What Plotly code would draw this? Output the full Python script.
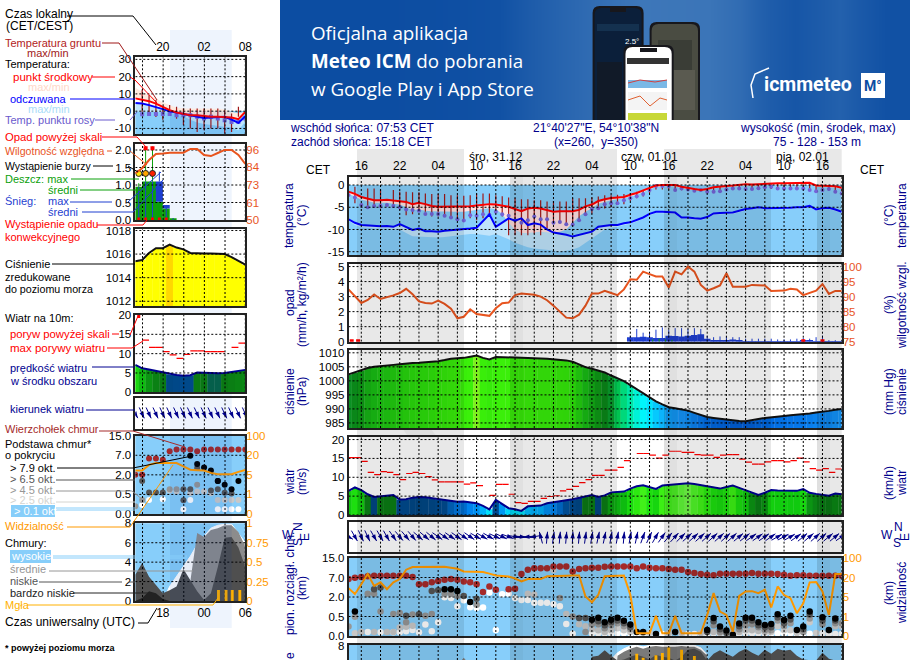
# Meteogram (ICM style) with the legend column on the left
import math
import plotly.graph_objects as go

W, H = 910, 660
FONT = "Liberation Sans"
NAVY = "#00008c"
ORANGE = "#ff9900"
HUMID = "#e8541e"
SKY = "#87cefa"

# ---- main chart, one value per hour from 14:00 on 30.12
temp_mid = [-1.5,-2.0,-2.7,-3.0,-3.4,-3.4,-3.3,-3.5,-3.6,-3.8,-4.3,-4.0,-4.3,-4.7,-4.9,-4.9,-4.9,-4.9,-4.9,-4.8,-4.6,-4.4,-4.3,-4.4,-4.6,-4.9,-5.4,-5.9,-5.3,-5.1,-5.3,-5.7,-6.0,-5.9,-5.9,-5.9,-5.6,-4.8,-4.4,-3.6,-3.2,-2.9,-2.8,-2.7,-2.2,-1.8,-1.2,-0.7,-0.1,0,0,0,-0.4,-0.7,-0.9,-1.1,-0.9,-0.5,-0.3,-0.2,-0.1,0.1,0.2,0.1,0.2,0.3,0.4,0.4,0.4,0.4,0.5,0.5,0.5,-0.1,-0.2,-0.2,-0.3,-0.6]
temp_min = [-2.0,-2.6,-3.3,-3.6,-4,-4,-4,-4.2,-4.4,-5,-5.6,-5.5,-5.8,-5.9,-6,-6,-6,-6,-6,-5.8,-5.6,-5.4,-5.2,-5.4,-6.5,-8.5,-10,-10.8,-10.8,-10.6,-10.5,-10.6,-10.8,-10.5,-10,-8.5,-7,-6,-5.2,-4.2,-3.8,-3.4,-3.2,-3,-2.6,-2.2,-1.6,-1,-0.4,-0.3,-0.3,-0.3,-0.7,-1,-1.2,-1.3,-1.2,-.8,-.6,-.5,-.4,-.2,-.1,-.2,-.1,0,.1,.1,.1,.1,.2,.2,.2,-.4,-.5,-.5,-.6,-.9]
temp_feel = [-7.7,-8.5,-9,-9.1,-9.2,-9.3,-9.2,-9.4,-8.8,-9.5,-10.1,-9.8,-10.4,-10.4,-10.5,-10.3,-10.2,-10,-9.9,-9.8,-9.6,-8.2,-6.6,-9.4,-8.4,-7.5,-8,-7.5,-9,-8.6,-8.9,-10,-10.7,-10.9,-11.2,-11.6,-11.2,-10.8,-10.5,-9.4,-9.2,-9,-9,-8.6,-8.4,-7.9,-7.3,-6.5,-6,-6,-6.1,-6.2,-7.3,-7.3,-7.5,-7.6,-7.2,-6.4,-6.3,-6.2,-6.2,-5.8,-5.4,-5.2,-5,-5.2,-5.2,-5.1,-5.2,-5.1,-5,-5,-4.7,-5.5,-5.2,-5.1,-5.5,-6]
temp_feel_min = [-8,-9,-9.5,-9.6,-9.8,-9.8,-9.8,-10,-10,-10.8,-11.5,-11.5,-11.6,-11.7,-11.8,-11.7,-11.5,-11.3,-11.2,-11,-11,-11.2,-11.4,-11,-11.6,-12.2,-13,-13.5,-14,-14.3,-14.5,-14.6,-14.7,-15,-14.8,-14.5,-14,-13,-12,-11,-10,-9.6,-9.4,-9,-8.7,-8.2,-7.6,-6.8,-6.3,-6.3,-6.4,-6.5,-7.6,-7.6,-7.8,-7.9,-7.5,-6.7,-6.6,-6.5,-6.5,-6.1,-5.7,-5.5,-5.3,-5.5,-5.5,-5.4,-5.5,-5.4,-5.3,-5.3,-5,-5.8,-5.5,-5.4,-5.8,-6.3]
dew_point = [-2.25,-2.8,-4.5,-5,-4.7,-4.7,-4.5,-4.7,-5,-5.5,-5.6,-5.8,-6.5,-6.5,-6.5,-6.9,-7.3,-7.7,-8,-6.8,-6.9,-6.6,-6.7,-6,-6.6,-6.9,-7.9,-8.5,-7.9,-7.1,-7.7,-7.7,-8.5,-8.3,-8.8,-8.9,-7.9,-6.6,-5.4,-5.2,-4.3,-4.1,-4.1,-3.4,-3,-2.5,-2,-1.1,-.2,-.2,-.2,-1.1,-.8,-1,-1.3,-1.1,-1.5,-1.5,-1.4,-1,-.8,-.8,-.9,-.9,-.7,-.5,-.4,-.8,-.8,-.8,-.8,-.8,-1.1,-1.4,-1.1,-.9,-1.5,-1.9]
ground_max = [None,-0.4,None,-0.8,-0.8,-1,None,-1.1,-1.5,-1.5,-1.6,-1.6,-1.9,-2,-2,-2,-2.3,-2.3,-2.4,-2.3,-1.9,-1.9,-1.9,-2.3,-2.5,-2.8,-3,-3.2,-3.2,-3.4,-3.4,-3.7,-3.6,-3.7,-3.7,-3,-3,-3,-2.8,-2.6,-2.3,-2.3,-2.2,-2,-1.8,-1.5,-1.2,-.8,-.1,0,0,0,-.4,-.6,-.8,-.9,-.8,-.4,-.2,-.1,0,.1,.2,.1,.2,.2,.2,.2,.2,.2,.2,.2,.2,-.2,-.2,-.2,-.2,-.5]
ground_min = [None,-4.1,None,-5,-4.9,-5.3,None,-5,-5.6,-6.8,-6.6,-6,-6,-7.1,-7.1,-6.8,-7.1,-7.5,-8.3,-7.5,-7.9,-7.5,-6.8,-5.6,-7.1,-11.3,-11.3,-11.3,-11.3,-10.9,-11.3,-9.8,-8.6,-8.6,-8.6,-8.6,-7.9,-6.8,-6.4,-5.6,-5.3,-5,-4.5,-4.3,-3.6,-3,-2.6,-1.8,-1,-1,-1,-1,-1.2,-1.2,-1.4,-1.4,-1.2,-1.2,-1.1,-1,-1,-1,-1,-1,-1,-.9,-.9,-.9,-.9,-.9,-.9,-.9,-.9,-1.1,-1.1,-1.1,-1.3,-1.5]
humidity = [92.4,90,87.9,88.9,90.7,89.2,89.7,90.4,91.2,92.6,90.8,88.4,87.9,87.7,88.7,87.6,86,82.8,83.3,85.8,84.2,83.8,83.6,86.1,87.8,88,90.5,91,90.9,90.6,90,88.8,87,85,83,82.8,84,87,91,91,91.9,91.2,90.5,92.4,95.8,95.6,98.3,97.5,96.7,96.7,93,98.3,97.4,100,98.3,93.9,92,92.8,93.7,97.8,93.3,93.3,93.3,93.9,93.8,93.7,91.9,91.9,92,92.6,92.4,90.5,91.2,92,94.2,90.9,91.9,91.9]
snow_mean = [0]*44 + [.3,.3,.33,.3,.25,.25,.4,.38,.35,.4,.45,.5,.2,.1,.1,.12,.15,.1,.02,.02,.02,.02,.02,.02,.02,.02,.02,.1,.05,.02,.02,.02,.02,.01]
snow_max = [0.45]+[0]*43 + [.4,.85,.6,.65,.8,.95,.8,.9,.9,.85,.9,.85,.4,.3,.35,.35,.3,.3,.2,.2,.2,.2,.2,.15,.15,.15,.2,.25,.2,.3,.4,.1,.1,.1]
rain_max = [0]*47 + [.15,.2,.15,.12]
convective_hours = [0.5,1.5,71,74]
pressure = [1002.3,1003,1003.7,1004.6,1005,1005.3,1005.5,1005.7,1005.9,1006.2,1006.4,1006.5,1006.6,1006.8,1007,1007.4,1007.9,1008.1,1008.2,1008.6,1009,1008.2,1007.6,1008.5,1008.5,1008.4,1008.3,1008.2,1008.2,1008.1,1008,1007.9,1007.7,1007.5,1007.3,1006.8,1005.8,1004.9,1004.3,1003.6,1003,1001.9,1001,999.9,998.5,997,995.7,994.2,992.7,991.6,990.6,990.2,989.8,989.4,988.6,987.9,987.1,986.8,986.5,986.2,985.9,985.7,985.6,985.9,986.4,986.8,987.1,987.4,987.5,987.7,987.9,988,988.4,988.7,988.9,989.3,989.7,990]
wind = [6.4,7.3,6.6,5.5,4.8,5,5.2,5.3,4.1,4.2,4.6,4.8,4.7,4.5,4.2,4,3.7,3.5,3.6,3.3,3.1,2.4,1.5,4,2.9,1.8,1.5,1.1,2.3,2.5,2.5,3.1,3.3,3.6,3.9,4.2,4.6,5,5.3,4.8,5.2,6,6.1,6.2,7,7.6,7.9,7.4,6.9,7.8,8,8.2,8.3,8.4,8.2,7.9,7.6,7.3,7,7.4,7.8,7.2,6.5,5.9,5.3,5.9,6.6,6.5,6.5,6.4,6.4,6.9,5.9,5.6,5.3,5.1,5.7,5.5]
gust = [15.2,15.2,14.2,11.3,10.7,11.5,11.3,10.7,9.4,11,11.3,11,10.2,9.3,8.8,8.8,8.8,8.8,8.2,8.5,7.8,None,5.2,8.1,8.1,5.5,3.3,3.1,3.6,3.6,4.4,4.9,5.1,6.4,6.8,7.6,8.6,9.4,10.5,10.5,11.9,11.9,12.6,14.4,None,16.3,16.3,15.9,15.1,15.9,16.9,16.9,16.6,16.6,16,15.9,15.9,15.3,15.9,16,16,14.8,14,13.5,13.5,14.1,14.4,14.4,14.1,14.4,15.1,14.1,12.3,11.9,12.3,11.3,12.2]
wind_bearing = [120,150,155,155,150,150,150,145,140,140,140,130,130,130,125,125,125,125,125,125,120,120,120,115,115,110,100,95,265,260,345,5,8,5,5,3,5,8,10,12,12,10,10,5,10,12,20,25,30,35,40,42,45,48,48,48,48,48,48,48,48,50,52,55,55,55,55,60,62,60,55,50,50,48,48,50,50,55]
cloud_top = [2.92,2.99,3.02,3.06,3.09,3.09,3.09,3.09,3.09,3.09,3.02,2.66,2.66,2.76,2.82,2.88,2.92,2.88,2.8,2.76,2.66,2.25,2.54,2.37,None,2.4,2.42,3.18,3.4,3.48,3.48,3.48,3.57,3.57,3.57,3.31,3.43,3.48,3.5,3.5,3.55,3.57,3.57,3.57,3.57,3.48,3.57,3.5,3.48,3.48,3.43,3.4,3.4,3.28,3.23,3.18,3.14,3.11,3.19,3.19,3.19,3.19,3.19,3.23,3.19,3.19,3.19,3.18,3.14,3.09,3.12,3.12,3.09,3.09,3.09,3.09,3.09,3.09]
visibility = [2.45,2.15,2.65,3.18,2.57,2.75,2.4,2.75,2.92,3.4,3.54,3.54,3.54,3.56,3.57,3.55,3.5,3.45,3.31,3.31,3.31,3.28,3.2,3.1,3.08,3.05,2.95,2.8,2.92,2.92,2.92,3.06,3.08,3.08,3.09,3.1,3.1,2.03,1.73,2.11,3.06,3.08,3.1,3.1,2.11,.14,.14,.14,1.03,.14,.14,1.03,.14,.14,.14,.14,1.07,2.2,1.25,1.08,.22,2.06,2.28,2.3,2.2,2.37,1.46,2.54,2.1,1.94,1.17,1.68,2.75,2.77,2.28,1.08,3.18,3.18]
black_h = [1,15,16,17,19,38,39,40,41,42,43,44,45,46,48,51,56,57,58,59,60,61,62,63,64,65,66,67,68,69,70,71,72,74,75,76]
black_v = [1.25,2.4,2.4,2.31,1.74,.83,.94,.7,.83,.94,.78,.59,.21,.21,.1,.21,.31,.92,.49,.28,.07,.64,.94,.94,.7,.57,.61,1.11,.82,1.04,.31,.49,1.25,.96,.31,.9]
dark_h = [4,5,9,11,13,14,18,20,36,37,39,40,41,42,43,44,56,57,58,59,61,62,63,64,65,66,67,68,69,71,72,74,76]
dark_v = [2.4,2.49,1.04,1.11,2.31,2.35,2.05,1.91,.92,.92,.75,.55,.7,.8,.65,.45,.2,.75,.35,.15,.5,.8,.8,.55,.45,.45,.95,.65,.85,.35,1.1,.8,.8]
gray_h = [0,1,3,4,5,7,8,9,10,12,13,15,16,17,20,33,35,37,38,39,40,41,42,43,44,57,58,61,62,63,64,65,66,67,68,69,71,72,74,76,77]
gray_v = [.49,.99,2.17,2.17,1.25,1.13,1.18,.7,1.1,1.04,1.13,2.17,2.17,2.05,1.6,1.95,1.0,.2,.6,.6,.4,.55,.65,.5,.35,.55,.2,.35,.55,.6,.45,.3,.3,.8,.5,.65,.2,.9,.6,.65,.65]
light_h = [1,2,4,6,7,8,9,10,28,29,32,34,36,37,38,39,40,41,42,43,44,46,47,50,52,55,57,58,60,61,62,63,64,65,66,67,68,69,70,71,72,73,75,76,77]
light_v = [.14,.2,.2,.2,.2,.43,.47,.52,2.17,2.13,3.39,1.13,.6,.5,.35,.3,.2,.3,.4,.3,.2,.15,.15,.15,.15,.15,.2,.15,.15,.2,.3,.3,.25,.2,.2,.5,.3,.3,.15,.2,.7,.15,.3,.5,.5]
white_h = [3,5,7,8,9,10,11,12,13,14,15,16,17,18,19,20,21,22,23,24,25,26,27,28,29,30,31,32,33,34,35,38,39,40,41,42,43,44,45,46,47,49,50,52,53,54,55,56,57,58,59,60,61,62,63,64,65,66,67,68,69,70,71,72,74,75,76,77]
white_v = [.2,.19,.19,.19,.24,.31,.19,.59,.24,.7,1.99,1.95,1.53,1.83,1.48,1.43,1.46,2.23,.31,2.14,2.17,1.95,1.84,1.84,1.7,1.7,1.7,1.63,1.53,.61,.12,.14,.14,.14,.12,.14,.14,.12,.1,.1,.1,.1,.1,.1,.1,.1,.1,.1,.14,.12,.1,.1,.12,.14,.14,.14,.12,.14,.14,.14,.14,.1,.1,.12,.14,.1,.1,.1]
layer_high = [0]*41 + [6.6,7.3,7.7,8,8.05,7.9,8.05,8.1,8.05,8.05,8.05,8.1,8.05,8.05,7.8,7.1]
layer_mid = [0]*17 + [6,6.8,6] + [0]*22 + [7.0,7.4,7.7,7.9,7.7,7.9,8.0,7.9,7.9,7.9,8,7.9,7.9,7.6,7]
layer_low = [0]*37 + [5,6.9,7.0,7.55,7.0,6.5,6.6,6.9,7.1,6.9,6.6,7.1,6.9,6.8,6.5,6.9,7.6,7.7,7.4,6.5,7.2,7.55,7.2,6.9,7.4,7.7,7.3,7.0,7.6,7.2,7.7,7.5,7.6,7.0,6.6,6.5,6.5,7.3,6.7,6.5,6.4]
fog_h = [45,46,48,49,50,52,54]
fog_v = [.9,.85,.88,.91,.98,.95,.87]

# ---- legend column, one value per hour from 16:00
l_temp = [7.4,6.8,5.8,4.4,2.5,.6,-.8,-1.5,-2.3,-2.3,-2.9,-3.3,-3.3,-3.3,-3.7,-4.6,-.4]
l_temp_max = [13.5,11,9,7.5,5,3.5,2,1.6,1.6,1.6,1.6,1.4,1.4,.9,-.5,-1.2,-.4]
l_feel = [4.8,4.4,3.5,2.5,1.2,0,-.8,-1.4,-2.3,-3.3,-3.9,-3.7,-3.7,-3.3,-4.9,-6.8,-2.9]
l_feel_min = [-.2,-.3,-.5,-.6,-.7,-.8,-1.8,-3,-5,-6.5,-7.5,-8,-8.5,-9,-9.5,-11,-6]
l_dew = [-1.8,-1.7,-1.7,-1.7,-1.7,-2.3,-2.3,-2.3,-3.3,-4.3,-3.3,-4.3,-5.3,-6.3,-6.3,-4.3]
l_ground_max = [None,12.5,9.3,6.4,2.8,3.5,2.5,1.5,1.5,1.5,1.5,1.5,1.5,.6,-1.3,2.5,None]
l_ground_min = [None,-.4,-1.5,-3.4,-5,-2.3,-4.4,-8,-10,-12,-11,-10,-10,-13,-12,-3.3,None]
l_humid = [80.7,84,89.4,93.4,93.6,94.2,94.2,94.2,96.7,96.7,92.7,92,94,96,96,92.7,86.8]
l_rain = [.95,1.1,1.1,.52,.33,.05,0,0,0,0,0,0,0,0,0,0,0]
l_snow = [0,0,0,.58,.1,0,0,0,0,0,0,0,0,0,0,0,0]
l_rain_max = [1.05,2.1,2.1,0,0,0,0,0,0,0,0,0,0,0,0,0,0]
l_snow_max = [0,0,0,1.38,0,0,0,0,0,0,0,0,0,0,0,0,0]
l_storm = [1.33,1.33,1.33]
l_pressure = [1015.4,1015.5,1016.1,1016.5,1016.5,1016.8,1016.55,1016.4,1016.1,1016.05,1016.05,1016.05,1016.05,1016.0,1015.75,1015.45,1015.1]
l_wind = [7.1,6.2,5.9,5.5,5.1,4.7,4.5,4.3,4.4,5.1,5,4.9,4.9,5,5.3,5.6,5.8]
l_gust = [None,13.5,11.6,11.6,10.5,9.7,8.8,9.8,10.7,10.7,10.5,10.5,10.5,None,11.6,12.7,12.9]
l_bearing = [150,155,155,155,155,155,155,155,155,155,155,155,155,155,155,155,155]
l_top = [2,2,2.84,2.84,2.77,3.2,3.3,3.3,3.3,3.2,3.3,3.3,3.3,3.3,3.3,3.3,3.3]
l_black_h = [8,9,10,11,12,12,13,14,15]
l_black_v = [2.97,2.55,2.38,2.22,1.69,1.69,1.49,1.26,1.69]
l_dark_h = [1,2,3,4,7,8,7,9,11,12,13,14]
l_dark_v = [1.69,1.1,1.1,1.1,1.26,1.26,.7,2.35,1.2,1.26,1.09,1.05]
l_gray_h = [1,5,6,9,0]
l_gray_v = [.72,1.26,1.26,1.49,.4]
l_light_h = [5,6,8,9,10,11,12,13,14,15]
l_light_v = [1.2,1.15,1.06,1.15,1.15,1.06,.72,.72,.72,.72]
l_white_h = [1,2,4,7,8,12,13,14,15]
l_white_v = [.46,.72,.75,.24,.72,.24,.24,.24,.24]
l_vis = [2.22,2.22,2.51,2.6,2.6,2.6,2.6,2.43,2.26,2.24,2.22,2.1,2.03,2.03,2.03,2.15,2.25]
l_high = [0,0,0,0,0,1.5,2.5,3.5,4.6,5.8,6.6,7.5,7.8,7.9,7.9,7,6]
l_mid = [0,0,0,0,0,0,0,0,2,7,6.6,7.3,7.5,7.8,7.8,7.1,5.6]
l_low = [2.7,3.9,2.5,1.7,.8,1.1,1.5,3.3,2.2,1,.1,.8,3.5,6.5,6.6,5.5,3.5]
l_verylow = [0,.3,1.0,.8,.2,0,0,0,0,0,0,0,0,0,0,0,0]
l_fog_h = [12.1,13.2,14.1,15.2]
l_fog_v = [.14,.14,.14,.14]

# ---- night bands and banner tone
night_px = [(357,464),(510,617),(664,771),(817,841.7)]
dusk_px = [(510,523),(664,677),(817,830)]
banner_x = [280,340,400,470,530,600,680,740,770,820,860,910]
banner_tone = [0,0,.02,.1,.55,.95,.9,.5,.2,.45,.1]

PRESSURE_COLORS = [(983,"rgb(0,70,190)"),(987,"rgb(0,105,225)"),(990,"rgb(20,150,250)"),(994,"rgb(0,225,255)"),(996,"rgb(0,250,250)"),(998,"rgb(0,235,180)"),(1000,"rgb(0,215,120)"),(1001,"rgb(0,195,80)"),(1002,"rgb(10,150,40)"),(1003,"rgb(10,135,25)"),(1005,"rgb(25,190,20)"),(1007,"rgb(50,230,10)"),(1008.6,"rgb(60,240,10)"),(1009,"rgb(125,240,30)")]
L_PRESSURE_COLORS = [(1014,"rgb(255,255,0)"),(1016.6,"rgb(255,255,0)"),(1016.8,"rgb(255,215,0)")]
WIND_COLORS = [(0,"rgb(0,235,250)"),(1.6,"rgb(0,225,250)"),(2.4,"rgb(0,180,250)"),(3.4,"rgb(0,125,235)"),(4.0,"rgb(0,75,145)"),(4.8,"rgb(0,70,130)"),(5.0,"rgb(10,120,20)"),(5.8,"rgb(10,135,20)"),(6.3,"rgb(15,200,15)"),(7.4,"rgb(30,225,15)"),(7.8,"rgb(60,240,20)"),(8.2,"rgb(80,245,40)"),(8.5,"rgb(125,250,85)")]

fig = go.Figure()
layout = {}
panels = 1


def colorscale(stops):
    lo, hi = stops[0][0], stops[-1][0]
    return [[(v - lo) / (hi - lo), c] for v, c in stops]


def panel(box, xr, yr, yticks, ylabels, rticks=None, rlabels=None, rrange=None, rcolor="black",
          xticks=None, xlabels=None, xside="top"):
    global panels
    panels += 1
    n = panels
    left, top, right, bottom = box
    xa = dict(domain=[left / W, right / W], range=xr, anchor=f"y{n}", showgrid=False, zeroline=False,
              showline=True, mirror=True, linecolor="#222", linewidth=1.5, ticks="",
              showticklabels=xticks is not None, side=xside)
    if xticks is not None:
        xa.update(tickvals=xticks, ticktext=xlabels, tickfont=dict(family=FONT, size=12, color="black"))
    layout[f"xaxis{n}"] = xa
    layout[f"yaxis{n}"] = dict(domain=[1 - bottom / H, 1 - top / H], range=yr, anchor=f"x{n}", showgrid=False,
                               zeroline=False, showline=True, mirror=True, linecolor="#222", linewidth=1.5,
                               ticks="", tickvals=yticks, ticktext=ylabels,
                               tickfont=dict(family=FONT, size=11.5, color="black"))
    r = n + 100
    layout[f"yaxis{r}"] = dict(domain=[1 - bottom / H, 1 - top / H], range=rrange or yr, anchor=f"x{n}",
                               overlaying=f"y{n}", side="right", showgrid=False, zeroline=False, ticks="",
                               tickvals=rticks or [], ticktext=rlabels or [],
                               tickfont=dict(family=FONT, size=11.5, color=rcolor))
    return dict(xaxis=f"x{n}", yaxis=f"y{n}"), dict(xaxis=f"x{n}", yaxis=f"y{r}")


def line(ax, ys, color, width=2, x=None, **kw):
    fig.add_trace(go.Scatter(x=x if x is not None else list(range(len(ys))), y=ys, mode="lines",
                             line=dict(color=color, width=width), connectgaps=False, showlegend=False,
                             hoverinfo="skip", **ax, **kw))


def band(ax, upper, lower, color):
    hrs = list(range(len(upper)))
    fig.add_trace(go.Scatter(x=hrs + hrs[::-1], y=upper + lower[::-1], mode="lines", fill="toself",
                             fillcolor=color, line=dict(width=0), showlegend=False, hoverinfo="skip", **ax))


def dots(ax, xs, ys, color, size, symbol="circle"):
    fig.add_trace(go.Scatter(x=xs, y=ys, mode="markers", marker=dict(color=color, size=size, symbol=symbol, line_width=0),
                             showlegend=False, hoverinfo="skip", **ax))


def vlines(ax, highs, lows, color, width=1.2, xs=None):
    xs = xs if xs is not None else list(range(len(highs)))
    px, py = [], []
    for h, a, b in zip(xs, highs, lows):
        if a is None or b is None or a == b:
            continue
        px += [h, h, None]
        py += [b, a, None]
    line(ax, py, color, width, x=px)


def hsteps(ax, ys, color, width=1.2):
    px, py = [], []
    for h, v in enumerate(ys):
        if v is None:
            continue
        px += [h, h + 1, None]
        py += [v, v, None]
    line(ax, py, color, width, x=px)


def colored_area(ax, ys, stops, top):
    hrs = list(range(len(ys)))
    lo, hi = stops[0][0], stops[-1][0]
    fig.add_trace(go.Bar(x=hrs, y=ys, width=1.05, marker=dict(color=ys, colorscale=colorscale(stops), cmin=lo, cmax=hi,
                                                              line_width=0, showscale=False),
                         showlegend=False, hoverinfo="skip", **ax))
    # white above the profile so the steps of the bars do not show
    band(ax, [top] * len(ys), ys, "white")


def arrows(ax, bearings, hour_px, tail=7, head=5):
    px, py = [], []
    hx, hy = [], []
    for h, b in enumerate(bearings):
        sx, sy = math.sin(math.radians(b)), math.cos(math.radians(b))
        px += [h - tail * sx / hour_px, h + head * sx / hour_px, None]
        py += [-tail * sy, head * sy, None]
        hx.append(h + head * sx / hour_px)
        hy.append(head * sy)
    line(ax, py, NAVY, 1, x=px)
    fig.add_trace(go.Scatter(x=hx, y=hy, mode="markers", showlegend=False, hoverinfo="skip",
                             marker=dict(symbol="arrow", size=7, color=NAVY, angle=bearings, line_width=0), **ax))


def grid(ax, xticks, yticks, xr, yr):
    px, py = [], []
    for t in xticks:
        px += [t, t, None]
        py += [yr[0], yr[1], None]
    for t in yticks:
        px += [xr[0], xr[1], None]
        py += [t, t, None]
    fig.add_trace(go.Scatter(x=px, y=py, mode="lines", line=dict(color="black", width=1, dash="2px,2px"),
                             showlegend=False, hoverinfo="skip", **ax))


def text(x, y, s, color="black", size=12, anchor="left", angle=0, **kw):
    layout.setdefault("annotations", []).append(dict(
        x=x, y=y, xref="x", yref="y", text=s, showarrow=False, xanchor=anchor, yanchor="middle", textangle=angle,
        borderpad=0, borderwidth=0, font=dict(family=kw.pop("family", FONT), size=size, color=color), **kw))


def rect(x0, y0, x1, y1, fill, layer="above", line_color=None):
    layout.setdefault("shapes", []).append(dict(
        type="rect", xref="x", yref="y", x0=x0, y0=y0, x1=x1, y1=y1, fillcolor=fill, layer=layer,
        line=dict(width=1 if line_color else 0, color=line_color)))


def poly(points, color, width=1):
    path = "M" + " L".join(f"{x} {y}" for x, y in points)
    layout.setdefault("shapes", []).append(dict(type="path", xref="x", yref="y", path=path, layer="above",
                                                line=dict(color=color, width=width)))


def phone(x0, y0, x1, r, fill, border="#17171c"):
    y1 = 120
    for (a, b, c, col) in ((x0, y0, x1, border), (x0 + 2, y0 + 2, x1 - 2, fill)):
        path = f"M{a} {y1} L{a} {b + r} Q{a} {b} {a + r} {b} L{c - r} {b} Q{c} {b} {c} {b + r} L{c} {y1} Z"
        layout.setdefault("shapes", []).append(dict(type="path", xref="x", yref="y", path=path, fillcolor=col,
                                                    layer="above", line=dict(width=0)))


# ---- page axes in pixels: banner, backgrounds, legend column
layout["xaxis"] = dict(domain=[0, 1], range=[0, W], visible=False, fixedrange=True)
layout["yaxis"] = dict(domain=[0, 1], range=[H, 0], visible=False, fixedrange=True)
fig.add_trace(go.Heatmap(x=banner_x, y=[0, 60, 120], z=[banner_tone, banner_tone], zsmooth="best", showscale=False,
                         zmin=0, zmax=1, colorscale=[[0, "#0c4da2"], [1, "#4079ba"]], hoverinfo="skip"))

rect(170, 30, 231.7, 628, "#eef4fd", "below")            # night in the legend column
for box in ((348.5, 185, 841.7, 255), (135.3, 111, 245.3, 134.3), (348.5, 558, 841.7, 636), (348.5, 645, 841.7, 660),
            (135.3, 435.7, 245.3, 514), (135.3, 523.3, 245.3, 601)):
    rect(*box, SKY, "below")
# faint logo watermark behind the main chart
layout["shapes"].append(dict(type="path", xref="x", yref="y", layer="below", fillcolor="rgba(0,0,0,0.045)", line=dict(width=0),
                             path="M393 350 L393 400 Q400 450 460 470 L480 470 Q425 440 416 395 L416 350 Z"))
layout["shapes"].append(dict(type="path", xref="x", yref="y", layer="below", fillcolor="rgba(0,0,0,0.04)", line=dict(width=0),
                             path="M660 372 Q690 355 708 372 L713 410 L675 410 Q672 385 660 372 Z"))

# ---- main panels
hours_end = 77
hrange = [0, hours_end]
vgrid = list(range(2, 78, 3))
hour_ticks = list(range(2, 78, 6))
hour_labels = ["16", "22", "04", "10", "16", "22", "04", "10", "16", "22", "04", "10", "16"]

ax, axr = panel((348.5, 176.7, 841.7, 255), hrange, [-15.74, 1.87], [0, -5, -10, -15], ["0", "-5", "-10", "-15"],
                [0, -5, -10, -15], ["0", "-5", "-10", "-15"], xticks=hour_ticks, xlabels=hour_labels)
band(ax, temp_feel, temp_feel_min, "#bfe4fb")
band(ax, temp_mid, temp_min, "#ffe2e2")
vlines(ax, ground_max, ground_min, "#a01818")
dots(ax, list(range(len(dew_point))), dew_point, "#7464d8", 4)
line(ax, temp_feel, "#0000ff")
line(ax, temp_mid, "#ff0000")
grid(ax, vgrid, [0, -5, -10, -15], hrange, [-15.74, 1.87])

ax, axr = panel((348.5, 264, 841.7, 341.7), hrange, [0, 5.17], [0, 1, 2, 3, 4, 5], ["0", "1", "2", "3", "4", "5"],
                [75, 80, 85, 90, 95, 100], ["75", "80", "85", "90", "95", "100"], [75, 100.85], HUMID)
fig.add_trace(go.Bar(x=list(range(len(snow_mean))), y=snow_mean, width=1.05, marker=dict(color="#1f3fd0", line_width=0),
                     showlegend=False, hoverinfo="skip", **ax))
vlines(ax, snow_max, [0] * len(snow_max), "#1f3fd0", 1)
vlines(ax, rain_max, [0] * len(rain_max), "#10a010", 1, xs=[h + .5 for h in range(len(rain_max))])
grid(ax, vgrid, [1, 2, 3, 4, 5], hrange, [0, 5.17])
dots(ax, convective_hours, [0.03] * len(convective_hours), "#ff0000", 4, "square")
line(axr, humidity, HUMID, 2)

ax, axr = panel((348.5, 350, 841.7, 428), hrange, [983.2, 1011], [1010, 1005, 1000, 995, 990, 985],
                ["1010", "1005", "1000", "995", "990", "985"], [1010, 1005, 1000, 995, 990, 985],
                ["758", "754", "750", "746", "742", "739"])
colored_area(ax, pressure, PRESSURE_COLORS, 1011)
line(ax, pressure, "#111", 2)
grid(ax, vgrid, [1010, 1005, 1000, 995, 990, 985], hrange, [983.2, 1011])

ax, axr = panel((348.5, 437.3, 841.7, 515), hrange, [0, 20.6], [0, 5, 10, 15, 20], ["0", "5", "10", "15", "20"],
                [0, 5, 10, 15, 20], ["0", "18", "36", "54", "72"])
colored_area(ax, wind, WIND_COLORS, 20.6)
line(ax, wind, "#000090", 2)
hsteps(ax, gust, "#ff0000")
grid(ax, vgrid, [0, 5, 10, 15, 20], hrange, [0, 20.6])

ax, axr = panel((348.5, 521.7, 841.7, 551.7), hrange, [-15, 15], [], [])
arrows(ax, wind_bearing, 6.4)
grid(ax, vgrid, [], hrange, [-15, 15])

ax, axr = panel((348.5, 558, 841.7, 636), hrange, [0, 4], [0, 1, 2, 3, 4], ["0.0", "0.5", "2.0", "7.0", "15.0"],
                [0, 1, 2, 3, 4], ["0", "1", "5", "20", "100"], rcolor=ORANGE)
dots(ax, white_h, white_v, "white", 6.5)
dots(ax, light_h, light_v, "#c8c8c8", 6.5)
dots(ax, gray_h, gray_v, "#969696", 6.5)
dots(ax, dark_h, dark_v, "#555555", 6.5)
dots(ax, black_h, black_v, "black", 6.5)
dots(ax, list(range(len(cloud_top))), cloud_top, "#a52a2a", 6.5)
grid(ax, vgrid, [1, 2, 3], hrange, [0, 4])
line(axr, visibility, ORANGE, 2)

ax, axr = panel((348.5, 645, 841.7, 660), hrange, [6.56, 8.09], [8], ["8"], [8], ["1"], [.82, 1.011], ORANGE)
line(ax, layer_high, "white", 1, fill="tozeroy", fillcolor="white")
line(ax, layer_mid, "#7a7a7a", 0, fill="tozeroy", fillcolor="#7a7a7a")
line(ax, layer_low, "#4d4d4d", 0, fill="tozeroy", fillcolor="#4d4d4d")
grid(ax, vgrid, [], hrange, [6.56, 8.09])
fig.add_trace(go.Bar(x=fog_h, y=fog_v, width=0.45, marker=dict(color="#ffb000", line_width=0), showlegend=False,
                     hoverinfo="skip", **axr))

# ---- legend panels
lrange = [0, 16]
lgrid = [1.05, 4.05, 7.05, 10.05, 13.05, 16]

ax, axr = panel((135.3, 57.3, 245.3, 134.3), lrange, [-13.4, 31.2], [30, 20, 10, 0, -10], ["30", "20", "10", "0", "-10"],
                [30, 20, 10, 0, -10], ["30", "20", "10", "0", "-10"], xticks=[4, 10, 16], xlabels=["20", "02", "08"])
band(ax, l_temp_max, l_temp, "#ffe9de")
band(ax, l_feel, l_feel_min, "#c0e6fb")
vlines(ax, l_ground_max, l_ground_min, "#a01818")
dots(ax, list(range(1, len(l_dew) + 1)), l_dew, "#7464d8", 4, "square")
line(ax, l_feel, "#0000ff")
line(ax, l_temp, "#ff0000")
grid(ax, lgrid, [30, 20, 10, 0, -10], lrange, [-13.4, 31.2])

ax, axr = panel((135.3, 143.7, 245.3, 220), lrange, [0, 2.18], [0, .5, 1, 1.5, 2], ["0.0", "0.5", "1.0", "1.5", "2.0"],
                [50, 61.5, 73, 84.5, 96], ["50", "61", "73", "84", "96"], [50, 100.1], HUMID)
rain_hours = [h + .5 for h in range(len(l_rain))]
fig.add_trace(go.Bar(x=rain_hours, y=l_rain, width=1.02, marker=dict(color="#0ba00b", line_width=0), showlegend=False,
                     hoverinfo="skip", **ax))
fig.add_trace(go.Bar(x=rain_hours, y=l_snow, base=l_rain, width=1.02, marker=dict(color="#1f3fd0", line_width=0),
                     showlegend=False, hoverinfo="skip", **ax))
vlines(ax, l_rain_max, l_rain, "#0ba00b", 1, xs=rain_hours)
vlines(ax, l_snow_max, [a + b for a, b in zip(l_rain, l_snow)], "#1f3fd0", 1, xs=rain_hours)
grid(ax, lgrid, [.5, 1, 1.5, 2], lrange, [0, 2.18])
dots(ax, rain_hours[1:3], [2.05] * 2, "#ff0000", 4, "square")
dots(ax, rain_hours[:5], [.03] * 5, "#ff0000", 3, "square")
fig.add_trace(go.Scatter(x=rain_hours[:3], y=l_storm, mode="markers", showlegend=False, hoverinfo="skip",
                         marker=dict(color=["#ffe600", "#ffa500", "#ff2000"], size=6, line=dict(color="#222", width=1)), **ax))
line(axr, l_humid, HUMID, 2)

ax, axr = panel((135.3, 229.3, 245.3, 306), lrange, [1011.6, 1018.1], [1018, 1016, 1014, 1012], ["1018", "1016", "1014", "1012"],
                [1018, 1016, 1014, 1012], ["1018", "1016", "1014", "1012"])
colored_area(ax, l_pressure, L_PRESSURE_COLORS, 1018.1)
line(ax, l_pressure, "#111", 2)
grid(ax, lgrid, [1018, 1016, 1014, 1012], lrange, [1011.6, 1018.1])

ax, axr = panel((135.3, 315, 245.3, 392.3), lrange, [0, 20], [0, 5, 10, 15, 20], ["0", "5", "10", "15", "20"],
                [0, 5, 10, 15, 20], ["0", "18", "36", "54", "72"])
colored_area(ax, l_wind, WIND_COLORS, 20)
line(ax, l_wind, "#000090", 2)
hsteps(ax, l_gust, "#ff0000")
dots(ax, [.5], [19.6], "#ff0000", 3, "square")
grid(ax, lgrid, [5, 10, 15], lrange, [0, 20])

ax, axr = panel((135.3, 398.3, 245.3, 429.3), lrange, [-15.5, 15.5], [], [])
arrows(ax, l_bearing, 6.875)
grid(ax, lgrid, [], lrange, [-15.5, 15.5])

ax, axr = panel((135.3, 435.7, 245.3, 514), lrange, [0, 4], [0, 1, 2, 3, 4], ["0.0", "0.5", "2.0", "7.0", "15.0"],
                [0, 1, 2, 3, 4], ["0", "1", "5", "20", "100"], rcolor=ORANGE)
dots(ax, l_white_h, l_white_v, "white", 6)
dots(ax, l_light_h, l_light_v, "#c8c8c8", 6)
dots(ax, l_gray_h, l_gray_v, "#969696", 6)
dots(ax, l_dark_h, l_dark_v, "#555555", 6)
dots(ax, l_black_h, l_black_v, "black", 6)
dots(ax, list(range(len(l_top))), l_top, "#a52a2a", 6)
grid(ax, lgrid, [1, 2, 3], lrange, [0, 4])
line(axr, l_vis, ORANGE, 2)

ax, axr = panel((135.3, 523.3, 245.3, 601), lrange, [0, 8], [0, 2, 4, 6, 8], ["0", "2", "4", "6", "8"],
                [0, .25, .5, .75, 1], ["0", "0.25", "0.5", "0.75", "1"], [0, 1], ORANGE,
                xticks=[4, 10, 16], xlabels=["18", "00", "06"], xside="bottom")
line(ax, l_high, "white", 1, fill="tozeroy", fillcolor="white")
line(ax, l_mid, "#8c8c8c", 0, fill="tozeroy", fillcolor="#8c8c8c")
line(ax, l_low, "#4f4f4f", 0, fill="tozeroy", fillcolor="#4f4f4f")
line(ax, l_verylow, "#222", 0, fill="tozeroy", fillcolor="#222")
grid(ax, lgrid, [2, 4, 6], lrange, [0, 8])
fig.add_trace(go.Bar(x=l_fog_h, y=l_fog_v, width=.42, marker=dict(color="#ffb000", line_width=0), showlegend=False,
                     hoverinfo="skip", **axr))

# ---- overlays
for a, b in night_px:
    rect(a, 149, b, 660, "rgba(0,0,0,0.09)")
for a, b in dusk_px:
    rect(a, 176, b, 660, "rgba(0,0,0,0.03)")
for top, bottom in ((111, 134.3), (435.7, 514), (523.3, 601)):
    rect(170, top, 231.7, bottom, "rgba(0,60,170,0.09)")

# ---- banner
text(311, 33, "Oficjalna aplikacja", "white", 18.8, family="Open Sans")
text(311, 61, "<b>Meteo ICM</b> do pobrania", "white", 18.8, family="Open Sans")
text(311, 89, "w Google Play i App Store", "white", 18.8, family="Open Sans")
phone(592.6, 6, 643.6, 7, "#0b1f3a")
phone(649.6, 22, 700, 7, "#4a4c42")
rect(597, 24, 639, 31, "#14314f")
text(625, 41, "2.5°", "white", 8)
rect(597, 62, 622, 120, "#111a28", "above")
rect(658, 40, 692, 70, "#3a3d36")
rect(674, 70, 695, 110, "#5a5a50")
phone(623.5, 45, 673.7, 7, "white")
rect(627, 58, 669, 64, "#333333")
rect(628, 80, 667, 88, "#7ab8e6")
rect(628, 92, 667, 110, "#f4f4f4")
rect(628, 113, 667, 120, "#c8d838")
poly([(628, 83), (640, 80), (655, 82), (667, 80)], "#d04040", 1)
poly([(628, 100), (640, 96), (650, 106), (660, 98), (667, 100)], "#e06030", 1)
rect(640, 48, 657, 52, "#17171c")
rect(610, 8, 626, 12, "#17171c")
text(764, 84, "<b>icmmeteo</b>", "white", 19.5, family="Roboto")
poly([(769, 68), (755, 74), (751, 85), (753, 98)], "white", 1.5)
rect(861, 73, 885, 98, "white")
text(873, 85.5, "<b>M°</b>", "#0c4da2", 14, "center", family="Roboto")

# ---- header of the main chart
text(290, 128, "wschód słońca: 07:53 CET", NAVY)
text(291, 142, "zachód słońca: 15:18 CET", NAVY)
text(596, 128, "21°40'27\"E, 54°10'38\"N", NAVY, anchor="center")
text(596, 142, "(x=260,  y=350)", NAVY, anchor="center")
text(818, 128, "wysokość (min, środek, max)", NAVY, anchor="center")
text(817, 142, "75 - 128 - 153 m", NAVY, anchor="center")
text(496, 157, "śro, 31.12", anchor="center")
text(649, 157, "czw, 01.01", anchor="center")
text(802, 157, "pią, 02.01", anchor="center")
text(318, 170, "CET", anchor="center")
text(872, 170, "CET", anchor="center")

# ---- rotated titles
for x, y, s in ((289, 216, "temperatura"), (302, 216, "(°C)"), (290, 303, "opad"), (302, 305, "(mm/h, kg/m²/h)"),
                (290, 392, "ciśnienie"), (302, 392, "(hPa)"), (290, 482, "wiatr"), (302, 482, "(m/s)"),
                (290, 584, "pion. rozciągł. chm."), (302, 588, "(km)"), (290, 656, "e"),
                (889, 216, "(°C)"), (902, 216, "temperatura"), (889, 305, "(%)"), (902, 305, "wilgotność wzgl."),
                (889, 392, "(mm Hg)"), (902, 392, "ciśnienie"), (889, 483, "(km/h)"), (902, 483, "wiatr"),
                (889, 593, "(km)"), (902, 593, "widzialność")):
    text(x, y, s, NAVY, anchor="center", angle=-90)
for x, y, s, a in ((288, 535, "W", 0), (298, 527, "N", -90), (298, 542, "S", -90), (305, 537, "E", -90),
                   (887, 535, "W", 0), (898, 527, "N", 0), (897, 543, "S", 0), (905, 537, "E", -90)):
    text(x, y, s, NAVY, anchor="center", angle=a)

# ---- legend column texts
legend_rows = [
    (5, 14, "Czas lokalny", "black", 12), (6, 26, "(CET/CEST)", "black", 12),
    (5, 43, "Temperatura gruntu", "#b22222", 11), (27, 53, "max/min", "#a01818", 11),
    (5, 64, "Temperatura:", "black", 11), (13, 77, "punkt środkowy", "#ff0000", 11.5),
    (28, 87, "max/min", "#ffd8c8", 11), (10, 99, "odczuwana", "#0000ff", 11), (28, 109, "max/min", "#a8dcf8", 11),
    (5, 120, "Temp. punktu rosy", "#6a5acd", 11), (5, 137, "Opad powyżej skali", "#ff0000", 11.3),
    (5, 151, "Wilgotność względna", HUMID, 10.6), (5, 166, "Wystąpienie burzy", "black", 10.5),
    (5, 179, "Deszcz: max", "#0ba00b", 11), (48, 190, "średni", "#0ba00b", 11), (5, 201, "Śnieg:", "#1f3fd0", 11),
    (48, 201, "max", "#1f3fd0", 11), (48, 212, "średni", "#1f3fd0", 11), (5, 224, "Wystąpienie opadu", "#ff0000", 11),
    (5, 237, "konwekcyjnego", "#ff0000", 11), (5, 264, "Ciśnienie", "black", 11), (5, 277, "zredukowane", "black", 11),
    (5, 289, "do poziomu morza", "black", 10.7), (5, 318, "Wiatr na 10m:", "black", 11),
    (10, 334, "poryw powyżej skali", "#ff0000", 11.3), (10, 348, "max porywy wiatru", "#ff0000", 11.5),
    (10, 368, "prędkość wiatru", "#000090", 11), (10, 381, "w środku obszaru", "#000090", 11),
    (10, 409, "kierunek wiatru", "#000090", 11), (5, 429, "Wierzchołek chmur", "#a52a2a", 11),
    (5, 444, "Podstawa chmur*", "black", 11), (5, 455, "o pokryciu", "black", 11), (10, 468, "> 7.9 okt.", "black", 11),
    (10, 479, "> 6.5 okt.", "#555555", 11), (10, 490, "> 4.5 okt.", "#969696", 11), (10, 500, "> 2.5 okt.", "#d4d4d0", 11),
    (5, 526, "Widzialność", ORANGE, 11), (5, 543, "Chmury:", "black", 11), (10, 569, "średnie", "#969696", 11),
    (10, 581, "niskie", "#555555", 11), (10, 593, "bardzo niskie", "#222222", 11), (5, 605, "Mgła", "#ffb000", 11),
    (5, 622, "Czas uniwersalny (UTC)", "black", 12),
]
rect(11, 505, 55, 517, SKY)
rect(10, 550, 51, 563, SKY)
text(14, 511, "> 0.1 okt.", "white", 11)
text(11, 556, "wysokie", "white", 11)
for x, y, s, c, z in legend_rows:
    text(x, y, s, c, z)
text(5, 648, "<b>* powyżej poziomu morza</b>", "black", 9)

legend_lines = [
    ([(67, 16), (133, 16), (156, 45)], "black"), ([(102, 43), (119, 43), (157, 100)], "#a01818"),
    ([(92, 77), (115, 77)], "#ff0000"), ([(130, 77), (135, 80), (157, 103)], "#ff0000"),
    ([(70, 99), (135, 99)], "#0000ff"), ([(95, 120), (115, 120)], "#6a5acd"), ([(130, 120), (137, 112)], "#6a5acd"),
    ([(102, 137), (137, 137), (146, 147)], "#ff0000"), ([(107, 151), (112, 151)], HUMID),
    ([(130, 151), (147, 165)], HUMID), ([(93, 166), (113, 166)], "black"), ([(128, 166), (138, 172)], "black"),
    ([(71, 179), (139, 179)], "#0ba00b"), ([(80, 190), (143, 190)], "#0ba00b"), ([(70, 202), (112, 202)], "#1f3fd0"),
    ([(128, 202), (161, 172)], "#1f3fd0"), ([(82, 212), (133, 212), (163, 180)], "#1f3fd0"),
    ([(97, 225), (143, 225), (147, 220)], "#ff0000"), ([(52, 264), (135, 264)], "black"),
    ([(112, 334), (119, 334)], "#ff0000"), ([(130, 335), (138, 316)], "#ff0000"),
    ([(107, 348), (132, 348), (143, 341)], "#ff0000"), ([(92, 367), (135, 367)], "#000090"),
    ([(86, 410), (135, 410)], "#000090"), ([(99, 431), (133, 431), (185, 447)], "#a52a2a"),
    ([(57, 468), (133, 468), (192, 456)], "black"), ([(56, 480), (135, 480)], "#555555"),
    ([(56, 491), (132, 491), (143, 500)], "#969696"), ([(56, 502), (135, 502)], "#d4d4d0"),
    ([(56, 508), (135, 508)], SKY), ([(56, 510), (135, 510)], SKY), ([(67, 527), (130, 527), (173, 465)], ORANGE),
    ([(53, 556), (187, 556)], SKY), ([(53, 558), (187, 558)], SKY), ([(49, 571), (193, 571)], "#969696"),
    ([(39, 582), (122, 582)], "#555555"), ([(129, 582), (135, 582)], "#555555"), ([(73, 593), (150, 593)], "#222222"),
    ([(27, 605), (213, 605), (218, 598)], "#ffb000"), ([(138, 623), (148, 623), (157, 608)], "black"),
]
for pts, c in legend_lines:
    poly(pts, c, 1)

fig.update_layout(width=W, height=H, margin=dict(l=0, r=0, t=0, b=0, autoexpand=False), paper_bgcolor="white",
                  plot_bgcolor="rgba(0,0,0,0)", barmode="overlay", showlegend=False,
                  font=dict(family=FONT, size=12), **layout)
fig.write_html("out.html", config=dict(displayModeBar=False),
               post_script="document.body.style.margin='0';document.body.style.overflow='hidden';")
